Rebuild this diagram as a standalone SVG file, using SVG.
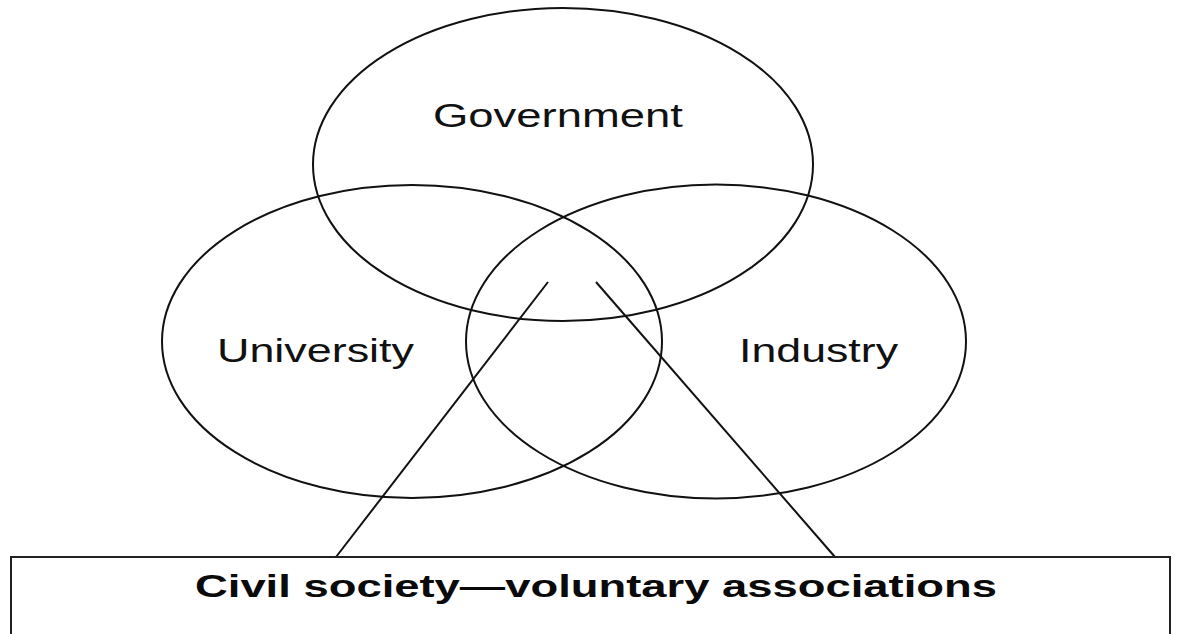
<svg xmlns="http://www.w3.org/2000/svg" width="1182" height="634" viewBox="0 0 1182 634">
<style>
.set{fill:none;stroke:#111;stroke-width:2}
.lbl{font-family:"Liberation Sans",Arial,sans-serif;font-size:33px;fill:#111}
.conn{stroke:#111;stroke-width:2;fill:none}
.box{fill:#fff;stroke:#222;stroke-width:2}
.title{font-family:"Liberation Sans",Arial,sans-serif;font-size:31px;font-weight:bold;fill:#0a0a0a}
</style>
<rect width="1182" height="634" fill="#fff"/>
<g id="government">
<ellipse class="set" cx="563" cy="164.5" rx="250" ry="156.5"/>
<text class="lbl" x="433" y="127" textLength="250" lengthAdjust="spacingAndGlyphs">Government</text>
</g>
<g id="university">
<ellipse class="set" cx="412" cy="341.5" rx="250" ry="156.5"/>
<text class="lbl" x="217" y="362" textLength="197" lengthAdjust="spacingAndGlyphs">University</text>
</g>
<g id="industry">
<ellipse class="set" cx="716" cy="341.5" rx="250" ry="157"/>
<text class="lbl" x="739" y="362" textLength="159" lengthAdjust="spacingAndGlyphs">Industry</text>
</g>
<g id="connectors">
<line class="conn" x1="548" y1="282" x2="336" y2="557"/>
<line class="conn" x1="596" y1="282" x2="835" y2="557"/>
</g>
<g id="civil-society">
<rect class="box" x="11" y="557" width="1159" height="90"/>
<text class="title" x="195" y="597" textLength="802" lengthAdjust="spacingAndGlyphs">Civil society—voluntary associations</text>
</g>
</svg>
